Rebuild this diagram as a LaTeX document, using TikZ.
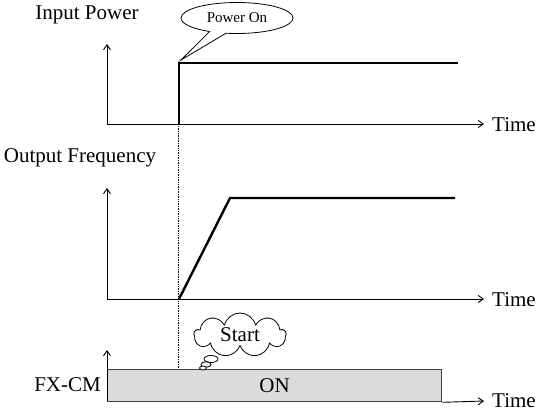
\documentclass[tikz,border=0pt]{standalone}
\usepackage{fontspec}
\setmainfont{Liberation Serif}
\usetikzlibrary{shapes.callouts,shapes.symbols,shapes.geometric,arrows.meta}
\begin{document}
\begin{tikzpicture}[x=1pt,y=-1pt,
  axis/.style={line width=0.9pt,-{Straight Barb[length=5pt,width=7pt]}},
  sig/.style={line width=2.4pt,line join=miter},
  lbl/.style={font=\fontsize{21}{24}\selectfont,inner sep=0pt},
  guide/.style={densely dotted,line width=0.7pt},
  bubble/.style={ellipse,draw,line width=0.8pt,fill=white,inner sep=0pt}]
\useasboundingbox (0,0) rectangle (545,412);
% --- top chart
\coordinate (o1) at (107,124);
\coordinate (y1) at (107,44);
\coordinate (x1) at (484,124);
\draw[axis] (o1) -- (y1);
\draw[axis] (o1) -- (x1);
\node[lbl,anchor=west] (t1) at (492,125) {Time};
\node[lbl] (ip) at (87,15) {Input Power};
\coordinate (s1) at (179,124);
\coordinate (s2) at (179,63);
\coordinate (s3) at (458,63);
\draw[sig] (s1) -- (s2) -- (s3);
\node[ellipse callout,draw,line width=0.8pt,minimum width=112pt,minimum height=31pt,inner sep=0pt,
  callout absolute pointer={(181,60)},callout pointer arc=18,font=\fontsize{15}{17}\selectfont] (pon) at (237,18) {Power On};
% --- middle chart
\coordinate (o2) at (107,299);
\coordinate (y2) at (107,188);
\coordinate (x2) at (484,299);
\draw[axis] (o2) -- (y2);
\draw[axis] (o2) -- (x2);
\node[lbl,anchor=west] (t2) at (492,300) {Time};
\node[lbl] (of) at (80,158) {Output Frequency};
\coordinate (r1) at (179,299);
\coordinate (r2) at (230,198);
\coordinate (r3) at (455,198);
\draw[sig] (r1) -- (r2) -- (r3);
% --- bottom chart
\node[draw=black!75,fill=black!14,line width=1.3pt,minimum width=334pt,minimum height=32pt,inner sep=0pt,anchor=north west,
  font=\fontsize{21}{24}\selectfont] (box) at (107,369) {ON};
\coordinate (o3) at (107,401);
\coordinate (y3) at (107,350);
\coordinate (x3) at (484,401);
\draw[axis] (o3) -- (y3);
\draw[axis] (box.south east) -- (x3);
\node[lbl,anchor=west] (t3) at (492,401) {Time};
\node[lbl,anchor=east] (fx) at (101,385) {FX-CM};
% dotted guide
\coordinate (g1) at (178,126);
\coordinate (g2) at (178,369);
\draw[guide] (g1) -- (g2);
% thought cloud
\node[bubble,minimum width=14pt,minimum height=7pt] (b1) at (211,359) {};
\node[bubble,minimum width=10pt,minimum height=5.5pt] (b2) at (206,364.5) {};
\node[bubble,minimum width=7pt,minimum height=4pt] (b3) at (203,368) {};
\node[cloud,draw,fill=white,line width=0.8pt,minimum width=92pt,minimum height=44pt,inner sep=0pt,aspect=2.2,cloud puffs=9,
  font=\fontsize{21}{24}\selectfont] (st) at (240,335) {Start};
\end{tikzpicture}
\end{document}
